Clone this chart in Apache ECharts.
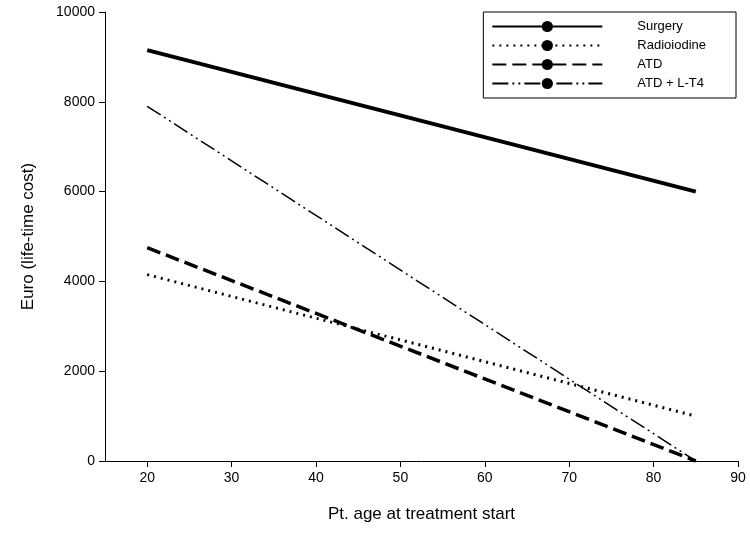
<!DOCTYPE html>
<html><head><meta charset="utf-8">
<script src="https://cdn.jsdelivr.net/npm/echarts@6/dist/echarts.min.js"></script>
<style>body{margin:0}#c{width:750px;height:540px}</style></head>
<body><div id="c"></div>
<script>
const ages = [20, 85];
const surgery = [9150, 6000];
const radioiodine = [4150, 1000];
const atd = [4750, 0];
const atdLT4 = [7900, 0];
const names = ['Surgery', 'Radioiodine', 'ATD', 'ATD + L-T4'];
const styles = [
  {width: 4, type: 'solid'},
  {width: 3, type: [2, 5]},
  {width: 3.5, type: [14, 6]},
  {width: 1.5, type: [16, 4, 2, 4, 2, 4]}
];
const vals = [surgery, radioiodine, atd, atdLT4];
const chart = echarts.init(document.getElementById('c'));
chart.setOption({
  animation: false,
  textStyle: {fontFamily: 'Liberation Sans, Arial'},
  grid: {left: 105, right: 12, top: 12, bottom: 79},
  legend: {
    orient: 'vertical', right: 14, top: 12, itemWidth: 110, itemHeight: 14, itemGap: 6,
    borderColor: '#000', borderWidth: 1, padding: [8, 30, 8, 8], borderRadius: 0,
    textStyle: {fontSize: 13, color: '#000', padding: [0, 0, 0, 30]},
    data: names
  },
  xAxis: {
    type: 'value', min: 15, max: 90, interval: 10,
    axisLabel: {color: '#000', fontSize: 14, margin: 10, customValues: [20,30,40,50,60,70,80,90]},
    axisTick: {customValues: [20,30,40,50,60,70,80,90], lineStyle: {color: '#000'}, length: 6},
    axisLine: {lineStyle: {color: '#000'}}, splitLine: {show: false},
    name: 'Pt. age at treatment start', nameLocation: 'middle', nameGap: 45,
    nameTextStyle: {fontSize: 17, color: '#000'}
  },
  yAxis: {
    type: 'value', min: 0, max: 10000, interval: 2000,
    axisLabel: {color: '#000', fontSize: 14, margin: 10, formatter: v => String(v)},
    axisTick: {show: true, lineStyle: {color: '#000'}, length: 6},
    axisLine: {show: true, lineStyle: {color: '#000'}}, splitLine: {show: false},
    name: 'Euro (life-time cost)', nameLocation: 'middle', nameGap: 68,
    nameTextStyle: {fontSize: 17, color: '#000'}
  },
  series: names.map((n, i) => ({
    name: n, type: 'line', showSymbol: false, symbol: 'none',
    data: ages.map((a, j) => [a, vals[i][j]]),
    lineStyle: Object.assign({color: '#000'}, styles[i]),
    itemStyle: {color: '#000'}
  }))
});
</script></body></html>
